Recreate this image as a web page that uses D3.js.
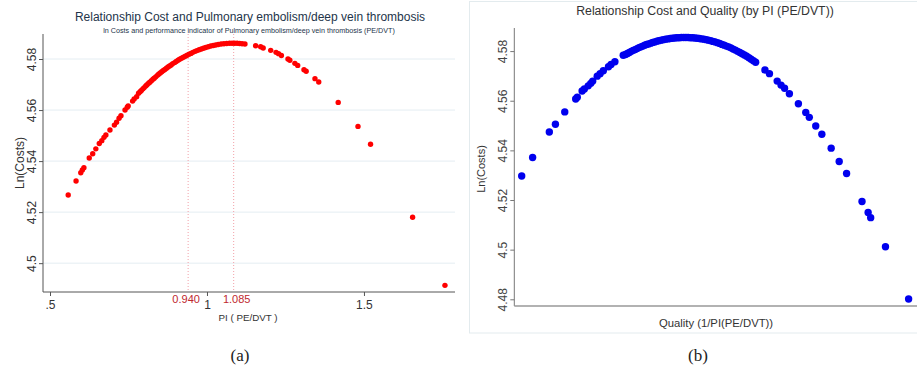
<!DOCTYPE html>
<html>
<head>
<meta charset="utf-8">
<script src="https://cdn.jsdelivr.net/npm/d3@7"></script>
<style>
  body { margin: 0; background: #fff; }
  svg { display: block; font-family: "Liberation Sans", Arial, sans-serif; }
</style>
</head>
<body>
<script>
// panel (a): PI (PE/DVT) vs ln(costs)
var piA = [0.558, 0.583, 0.598, 0.603, 0.608, 0.625, 0.636, 0.646, 0.657, 0.665, 0.672, 0.678, 0.691,
  0.705, 0.712, 0.720, 0.726, 0.739, 0.746, 0.749, 0.763, 0.768, 0.776,
  0.782, 0.787, 0.791, 0.796, 0.800, 0.805, 0.809, 0.814, 0.818, 0.823, 0.828, 0.832, 0.837, 0.842,
  0.846, 0.851, 0.856, 0.861, 0.866, 0.871, 0.876, 0.881, 0.886, 0.891, 0.897, 0.902, 0.908, 0.913,
  0.919, 0.925, 0.931, 0.937, 0.943, 0.949, 0.955, 0.962, 0.968, 0.975, 0.982, 0.989, 0.996, 1.004,
  1.012, 1.020, 1.028, 1.036, 1.045, 1.054, 1.063, 1.072, 1.080, 1.088, 1.096, 1.104, 1.112, 1.121,
  1.155, 1.171, 1.179, 1.203, 1.220, 1.228, 1.237, 1.258, 1.264, 1.280, 1.289, 1.309, 1.316, 1.344,
  1.356, 1.418, 1.481, 1.521, 1.655, 1.758];
var costA = [4.5267, 4.5322, 4.5354, 4.5365, 4.5374, 4.5412, 4.5429, 4.5448, 4.5469, 4.5480, 4.5493, 4.5502, 4.5522,
  4.5541, 4.5552, 4.5568, 4.5578, 4.5600, 4.5611, 4.5616, 4.5635, 4.5643, 4.5652,
  4.5666, 4.5672, 4.5677, 4.5683, 4.5688, 4.5694, 4.5699, 4.5705, 4.5709, 4.5715, 4.5721, 4.5725, 4.5730, 4.5736,
  4.5740, 4.5745, 4.5750, 4.5755, 4.5759, 4.5764, 4.5769, 4.5773, 4.5777, 4.5782, 4.5786, 4.5790, 4.5795, 4.5799,
  4.5803, 4.5807, 4.5811, 4.5815, 4.5819, 4.5822, 4.5826, 4.5830, 4.5833, 4.5836, 4.5839, 4.5842, 4.5845, 4.5848,
  4.5851, 4.5853, 4.5855, 4.5857, 4.5859, 4.5860, 4.5861, 4.5862, 4.5862, 4.5862, 4.5862, 4.5861, 4.5860, 4.5859,
  4.5852, 4.5848, 4.5843, 4.5834, 4.5826, 4.5821, 4.5814, 4.5800, 4.5795, 4.5783, 4.5775, 4.5758, 4.5752, 4.5723,
  4.5710, 4.5630, 4.5536, 4.5466, 4.5180, 4.4913];
var xTicksA = [0.5, 1, 1.5];
var xTickLabelsA = [".5", "1", "1.5"];
var markersA = [0.940, 1.085];
var yTicksA = [4.5, 4.52, 4.54, 4.56, 4.58];

// panel (b): quality (1/PI) vs ln(costs)
var qualityB = [0.573, 0.607, 0.659, 0.678, 0.707, 0.741, 0.746, 0.761, 0.768, 0.780, 0.788, 0.794,
  0.808, 0.817, 0.827, 0.843, 0.851, 0.863, 0.889,
  0.896, 0.902, 0.908, 0.914, 0.920, 0.926, 0.932, 0.938, 0.944, 0.950, 0.956, 0.962, 0.968, 0.975,
  0.981, 0.987, 0.994, 1.000, 1.007, 1.014, 1.021, 1.028, 1.035, 1.042, 1.049, 1.056, 1.063, 1.070,
  1.077, 1.084, 1.091, 1.098, 1.105, 1.112, 1.119, 1.126, 1.133, 1.140, 1.147, 1.154, 1.161, 1.168,
  1.175, 1.182, 1.189, 1.196, 1.203, 1.210, 1.217, 1.224, 1.231, 1.238, 1.245, 1.252, 1.259, 1.266,
  1.273, 1.280, 1.287, 1.294, 1.301,
  1.330, 1.344, 1.368, 1.380, 1.391, 1.406, 1.434, 1.457, 1.468, 1.488, 1.507, 1.536, 1.561, 1.584,
  1.632, 1.651, 1.659, 1.705, 1.777];
var costB = [4.5297, 4.5371, 4.5474, 4.5505, 4.5555, 4.5607, 4.5614, 4.5639, 4.5647, 4.5660, 4.5670, 4.5679,
  4.5699, 4.5709, 4.5721, 4.5737, 4.5746, 4.5757, 4.5783,
  4.5786, 4.5790, 4.5794, 4.5799, 4.5803, 4.5806, 4.5810, 4.5814, 4.5817, 4.5820, 4.5824, 4.5827, 4.5829, 4.5832,
  4.5835, 4.5837, 4.5840, 4.5842, 4.5844, 4.5846, 4.5848, 4.5849, 4.5851, 4.5852, 4.5853, 4.5854, 4.5854, 4.5855,
  4.5855, 4.5855, 4.5855, 4.5854, 4.5854, 4.5853, 4.5852, 4.5851, 4.5849, 4.5848, 4.5846, 4.5844, 4.5842, 4.5839,
  4.5837, 4.5834, 4.5831, 4.5827, 4.5824, 4.5820, 4.5817, 4.5813, 4.5808, 4.5804, 4.5799, 4.5794, 4.5789, 4.5784,
  4.5779, 4.5773, 4.5767, 4.5761, 4.5755,
  4.5724, 4.5709, 4.5679, 4.5663, 4.5650, 4.5628, 4.5588, 4.5553, 4.5533, 4.5498, 4.5465, 4.5409, 4.5355, 4.5307,
  4.5194, 4.5150, 4.5129, 4.5012, 4.4801];
var yTicksB = [4.48, 4.5, 4.52, 4.54, 4.56, 4.58];

var width = 917, height = 372;
var svg = d3.select('body').append('svg').attr('width', width).attr('height', height);

// ---------- panel (a) ----------
var xA = d3.scaleLinear().domain([0.4777, 1.79]).range([43, 455]);
var yA = d3.scaleLinear().domain([4.4887, 4.5898]).range([292, 34]);

// grid
svg.append('g').selectAll('line').data(yTicksA).join('line')
  .attr('x1', 43).attr('x2', 455)
  .attr('y1', d => yA(d)).attr('y2', d => yA(d))
  .attr('stroke', '#e4edf2').attr('stroke-width', 1);

// dotted marker lines
svg.append('g').selectAll('line').data(markersA).join('line')
  .attr('x1', d => xA(d)).attr('x2', d => xA(d))
  .attr('y1', 34).attr('y2', 292)
  .attr('stroke', '#f2a0a8').attr('stroke-width', 1).attr('stroke-dasharray', '1,2');

var axYA = svg.append('g').attr('transform', 'translate(43,0)')
  .call(d3.axisLeft(yA).tickValues(yTicksA).tickSize(4).tickFormat(d3.format('')));
axYA.select('.domain').attr('stroke', '#555').attr('d', 'M0,34V292');
axYA.selectAll('.tick line').attr('stroke', '#555');
axYA.selectAll('.tick text').attr('transform', 'rotate(-90)').attr('x', 0).attr('y', -7)
  .attr('dy', '0').style('text-anchor', 'middle').attr('font-size', 12).attr('fill', '#333');

var axXA = svg.append('g').attr('transform', 'translate(0,292)')
  .call(d3.axisBottom(xA).tickValues(xTicksA).tickSize(4).tickFormat((d, i) => xTickLabelsA[i]));
axXA.select('.domain').attr('stroke', '#555').attr('d', 'M43,0H455');
axXA.selectAll('.tick line').attr('stroke', '#555');
axXA.selectAll('.tick text').attr('y', 8).attr('font-size', 12).attr('fill', '#333');

svg.append('g').selectAll('text').data(markersA).join('text')
  .attr('x', (d, i) => xA(d) + (i === 0 ? -2 : 3)).attr('y', 303)
  .attr('text-anchor', 'middle').attr('font-size', 11).attr('fill', '#c0282e')
  .text(d => d3.format('.3f')(d));

svg.append('g').selectAll('circle').data(piA).join('circle')
  .attr('cx', d => xA(d)).attr('cy', (d, i) => yA(costA[i])).attr('r', 2.7)
  .attr('fill', '#f00');

svg.append('text').attr('x', 250).attr('y', 21).attr('text-anchor', 'middle')
  .attr('font-size', 12).attr('fill', '#23344a')
  .text('Relationship Cost and Pulmonary embolism/deep vein thrombosis');
svg.append('text').attr('x', 249).attr('y', 32.5).attr('text-anchor', 'middle')
  .attr('font-size', 7.2).attr('fill', '#23344a')
  .text('ln Costs and performance indicator of Pulmonary embolism/deep vein thrombosis (PE/DVT)');
svg.append('text').attr('transform', 'translate(23.5,163) rotate(-90)').attr('text-anchor', 'middle')
  .attr('font-size', 12).attr('fill', '#333').text('Ln(Costs)');
svg.append('text').attr('x', 248).attr('y', 321).attr('text-anchor', 'middle')
  .attr('font-size', 9.8).attr('fill', '#333').text('PI ( PE/DVT )');

// ---------- panel (b) ----------
svg.append('rect').attr('x', 469.5).attr('y', 1.5).attr('width', 450).attr('height', 331.5)
  .attr('fill', 'none').attr('stroke', '#e3ebee');

var xB = d3.scaleLinear().domain([0.55, 1.80]).range([514.3, 916]);
var yB = d3.scaleLinear().domain([4.4773, 4.5893]).range([306, 28]);

var axYB = svg.append('g').attr('transform', 'translate(514.3,0)')
  .call(d3.axisLeft(yB).tickValues(yTicksB).tickSize(4).tickFormat(d3.format('')));
axYB.select('.domain').attr('stroke', '#777').attr('d', 'M0,28V306');
axYB.selectAll('.tick line').attr('stroke', '#777');
axYB.selectAll('.tick text').attr('transform', 'rotate(-90)').attr('x', 0).attr('y', -7)
  .attr('dy', '0').style('text-anchor', 'middle').attr('font-size', 12).attr('fill', '#444');

svg.append('line').attr('x1', 514.3).attr('x2', 917).attr('y1', 306).attr('y2', 306)
  .attr('stroke', '#999').attr('stroke-width', 1.5);

svg.append('g').selectAll('circle').data(qualityB).join('circle')
  .attr('cx', d => xB(d)).attr('cy', (d, i) => yB(costB[i])).attr('r', 3.7)
  .attr('fill', '#0000ee');

svg.append('text').attr('x', 705).attr('y', 15).attr('text-anchor', 'middle')
  .attr('font-size', 12.3).attr('fill', '#333')
  .text('Relationship Cost and Quality (by PI (PE/DVT))');
svg.append('text').attr('transform', 'translate(485,169) rotate(-90)').attr('text-anchor', 'middle')
  .attr('font-size', 11).attr('fill', '#333').text('Ln(Costs)');
svg.append('text').attr('x', 716).attr('y', 327).attr('text-anchor', 'middle')
  .attr('font-size', 11.3).attr('fill', '#333').text('Quality (1/PI(PE/DVT))');

// captions
svg.append('text').attr('x', 240).attr('y', 361).attr('text-anchor', 'middle')
  .attr('font-family', '"Liberation Serif", serif').attr('font-size', 17).attr('fill', '#222').text('(a)');
svg.append('text').attr('x', 698).attr('y', 361).attr('text-anchor', 'middle')
  .attr('font-family', '"Liberation Serif", serif').attr('font-size', 17).attr('fill', '#222').text('(b)');
</script>
</body>
</html>
